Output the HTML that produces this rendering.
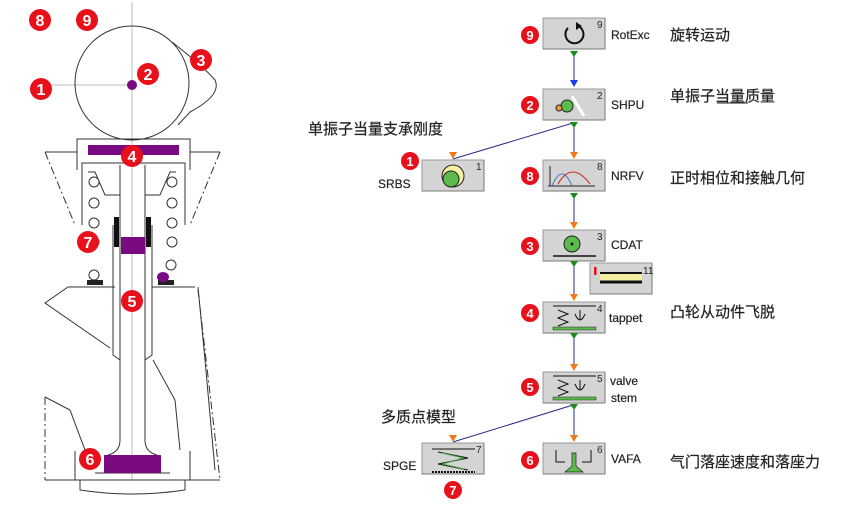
<!DOCTYPE html>
<html><head><meta charset="utf-8"><style>
html,body{margin:0;padding:0;background:#fff;width:861px;height:507px;overflow:hidden}
svg{display:block}
.lb{font-family:"Liberation Sans",sans-serif;font-size:12px;fill:#222}
.cn{font-family:"Liberation Sans","Noto Sans CJK SC",sans-serif;font-size:15px;fill:#222}
.bn{font-family:"Liberation Sans",sans-serif;font-size:16px;font-weight:bold;fill:#fff}
.sm{font-family:"Liberation Sans",sans-serif;font-size:10px;fill:#222}
</style></head><body>
<svg width="861" height="507" viewBox="0 0 861 507">
<defs>
<g id="bx"><rect x="0" y="0" width="62" height="31" fill="#d4d4d4" stroke="#999"/><line x1="0" y1="31" x2="62" y2="31" stroke="#777"/><line x1="62" y1="0" x2="62" y2="31" stroke="#777"/></g>
</defs>
<!-- LEFT MECHANISM -->
<g fill="none" stroke="#333" stroke-width="1">
<line x1="132" y1="2" x2="132" y2="480" stroke="#bbb"/>
<line x1="50" y1="85" x2="130" y2="85" stroke="#bbb"/>
<circle cx="132" cy="83" r="57"/>
<path d="M172,42 Q205,68 215,80 Q222,95 190,112 L178,125"/>
<path d="M77,170 L77,139 L190,139 L190,170 M45,152 L77,152 M190,152 L220,152"/>
<path d="M45,152 L75,225 M220,152 L190,225" stroke-dasharray="8,3,2,3"/>
<path d="M82,225 L82,163 L185,163 L185,225"/>
<path d="M88,172 L95,172 L105,195 L120,195 M176,172 L170,172 L160,195 L145,195"/>
<path d="M120,165 L120,440 Q120,452 108,455 M145,165 L145,440 Q145,452 157,455"/>
<path d="M113,225 L113,355 L120,360 M152,225 L152,355 L145,360"/>
<path d="M68,287 L115,287 M152,287 L195,287"/>
<path d="M68,287 L45,303 L110,348 M198,287 L205,360 L215,470"/>
<path d="M198,290 L220,480" stroke-dasharray="8,3,2,3"/>
<path d="M45,480 L220,480" />
<path d="M45,397 L45,480" stroke-dasharray="8,3,2,3"/>
<path d="M45,397 L70,410 L85,450 L100,460 M153,360 L175,400 L180,450"/>
<path d="M75,451 L75,480 M190,451 L190,480 M80,480 L80,490 Q132,498 185,490 L185,480"/>
<path d="M95,473 L170,473"/>
</g>
<g fill="#fff" stroke="#333">
<circle cx="94" cy="182" r="5"/><circle cx="94" cy="203" r="5"/><circle cx="94" cy="223" r="5"/><circle cx="94" cy="242" r="5"/>
<circle cx="172" cy="182" r="5"/><circle cx="172" cy="203" r="5"/><circle cx="172" cy="223" r="5"/><circle cx="172" cy="242" r="5"/>
<circle cx="94" cy="275" r="5"/><circle cx="171" cy="265" r="5"/>
</g>
<rect x="87" y="280" width="16" height="5" fill="#222"/><rect x="158" y="280" width="16" height="5" fill="#222"/>
<rect x="114" y="217" width="5" height="30" fill="#111"/><rect x="146" y="217" width="5" height="30" fill="#111"/>
<g fill="#7a0a82">
<rect x="88" y="145" width="91" height="10"/>
<rect x="121" y="237" width="24" height="17"/>
<circle cx="132" cy="85" r="5"/>
<ellipse cx="163" cy="277" rx="6" ry="5"/>
<rect x="104" y="455" width="57" height="18"/>
</g>
<g>
<g fill="#e8101a">
<circle cx="40" cy="20" r="11"/><circle cx="87" cy="20" r="11"/><circle cx="201" cy="60" r="11"/>
<circle cx="41" cy="89" r="11"/><circle cx="148" cy="74" r="11"/><circle cx="132" cy="156" r="11"/>
<circle cx="88" cy="242" r="11"/><circle cx="132" cy="301" r="11"/><circle cx="90" cy="459" r="11"/>
</g>
<text class="bn" x="40" y="26" text-anchor="middle">8</text>
<text class="bn" x="87" y="26" text-anchor="middle">9</text>
<text class="bn" x="201" y="66" text-anchor="middle">3</text>
<text class="bn" x="41" y="95" text-anchor="middle">1</text>
<text class="bn" x="148" y="80" text-anchor="middle">2</text>
<text class="bn" x="132" y="162" text-anchor="middle">4</text>
<text class="bn" x="88" y="248" text-anchor="middle">7</text>
<text class="bn" x="132" y="307" text-anchor="middle">5</text>
<text class="bn" x="90" y="465" text-anchor="middle">6</text>
</g>

<!-- FLOW -->
<g stroke="#2a2a8a" stroke-width="1">
<line x1="574" y1="52" x2="574" y2="85"/>
<line x1="574" y1="123" x2="574" y2="156"/>
<line x1="574" y1="194" x2="574" y2="226"/>
<line x1="574" y1="262" x2="574" y2="298"/>
<line x1="574" y1="334" x2="574" y2="368"/>
<line x1="574" y1="405" x2="574" y2="439"/>
<line x1="573" y1="123" x2="453" y2="159"/>
<line x1="573" y1="405" x2="453" y2="442"/>
</g>
<g>
<use href="#bx" x="543" y="18"/>
<use href="#bx" x="543" y="89"/>
<use href="#bx" x="543" y="160"/>
<use href="#bx" x="543" y="230"/>
<use href="#bx" x="590" y="263"/>
<use href="#bx" x="543" y="302"/>
<use href="#bx" x="543" y="372"/>
<use href="#bx" x="543" y="443"/>
<use href="#bx" x="422" y="160"/>
<use href="#bx" x="422" y="443"/>
</g>
<g fill="#1a8a1a">
<path d="M570,51 L578,51 L574,57Z"/><path d="M570,122 L578,122 L574,128Z"/><path d="M570,193 L578,193 L574,199Z"/>
<path d="M570,261 L578,261 L574,267Z"/><path d="M570,333 L578,333 L574,339Z"/><path d="M570,404 L578,404 L574,410Z"/>
</g>
<path d="M570,80 L578,80 L574,87Z" fill="#1a3aee"/>
<g fill="#f07a1a">
<path d="M570,152 L578,152 L574,159Z"/><path d="M570,222 L578,222 L574,229Z"/><path d="M570,294 L578,294 L574,301Z"/>
<path d="M570,364 L578,364 L574,371Z"/><path d="M570,435 L578,435 L574,442Z"/>
<path d="M449,152 L457,152 L453,159Z"/><path d="M449,435 L457,435 L453,442Z"/>
</g>
<g fill="none" stroke="#111" stroke-width="2">
<path d="M578,26 A9,9 0 1 1 568,28"/>
</g>
<path d="M576,22 L582,26 L576,30Z" fill="#111"/>
<circle cx="567" cy="106" r="6" fill="#5dbb4d" stroke="#222"/><circle cx="559" cy="108" r="3" fill="#f0a030" stroke="#222"/>
<line x1="572" y1="96" x2="584" y2="116" stroke="#fff" stroke-width="3"/>
<circle cx="453" cy="176" r="11" fill="#f4f0a0" stroke="#222"/><circle cx="451" cy="179" r="8" fill="#5dbb4d" stroke="#222"/>
<path d="M548,186 L595,186 M550,186 L550,166" stroke="#222" fill="none"/>
<path d="M552,186 Q562,162 572,186" stroke="#3a7ad0" fill="none"/><path d="M558,184 Q572,160 590,184" stroke="#d02020" fill="none"/>
<circle cx="572" cy="244" r="8" fill="#5dbb4d" stroke="#222"/><circle cx="572" cy="244" r="1.5" fill="#111"/>
<line x1="553" y1="256" x2="596" y2="256" stroke="#111" stroke-width="1.5"/>
<rect x="600" y="273" width="42" height="8" fill="#f4f0a0"/><line x1="600" y1="273" x2="642" y2="273" stroke="#111" stroke-width="2"/><line x1="600" y1="282" x2="642" y2="282" stroke="#111" stroke-width="3"/>
<rect x="594" y="267" width="2.5" height="8" fill="#e8101a"/>
<g stroke="#111" fill="none">
<path d="M553,306 L596,306 M558,310 L568,314 L558,318 L568,322 L558,326 M580,310 L580,320 M575,314 Q580,326 585,314"/>
<path d="M553,376 L596,376 M558,380 L568,384 L558,388 L568,392 L558,396 M580,380 L580,390 M575,384 Q580,396 585,384"/>
<path d="M556,450 L556,462 L565,462 M591,450 L591,462 L582,462"/>
<path d="M432,449 L475,449 M438,452 L468,458 L438,464 L468,470"/>
</g>
<path d="M442,453 L464,458 L442,464 L464,469" stroke="#3a9a3a" fill="none"/>
<rect x="553" y="327" width="43" height="3" fill="#5dbb4d" stroke="#222" stroke-width=".5"/>
<rect x="553" y="397" width="43" height="3" fill="#5dbb4d" stroke="#222" stroke-width=".5"/>
<path d="M572,453 L572,466 L565,472 L583,472 L576,466 L576,453Z" fill="#5dbb4d" stroke="#222" stroke-width=".7"/>
<line x1="432" y1="472" x2="475" y2="472" stroke="#111" stroke-dasharray="2,1" stroke-width="2"/>
<g class="sm">
<text x="597" y="28">9</text><text x="597" y="99">2</text><text x="597" y="170">8</text><text x="597" y="240">3</text>
<text x="643" y="274">11</text><text x="597" y="312">4</text><text x="597" y="382">5</text><text x="597" y="453">6</text>
<text x="476" y="170">1</text><text x="476" y="453">7</text>
</g>
<g class="lb" style="stroke:#222;stroke-width:0.2">
<text x="611" y="39">RotExc</text><text x="611" y="109">SHPU</text><text x="611" y="180">NRFV</text>
<text x="611" y="249">CDAT</text><text x="609" y="322">tappet</text><text x="610" y="385">valve</text><text x="611" y="402">stem</text>
<text x="611" y="463">VAFA</text><text x="378" y="188">SRBS</text><text x="383" y="470">SPGE</text>
</g>
<g class="cn" style="stroke:#222;stroke-width:0.2">
<text x="670" y="40">旋转运动</text><text x="670" y="101">单振子当量质量</text>
<text x="670" y="183">正时相位和接触几何</text><text x="670" y="317">凸轮从动件飞脱</text>
<text x="670" y="467">气门落座速度和落座力</text>
<text x="308" y="134">单振子当量支承刚度</text><text x="381" y="422">多质点模型</text>
</g>
<line x1="717" y1="103" x2="748" y2="103" stroke="#222"/>
<g fill="#e8101a">
<circle cx="530" cy="35" r="9"/><circle cx="530" cy="105" r="9"/><circle cx="530" cy="176" r="9"/>
<circle cx="530" cy="246" r="9"/><circle cx="530" cy="313" r="9"/><circle cx="530" cy="387" r="9"/>
<circle cx="530" cy="460" r="9"/><circle cx="410" cy="161" r="9"/><circle cx="453" cy="490" r="9"/>
</g>
<g class="bn" style="font-size:13px" text-anchor="middle">
<text x="530" y="40">9</text><text x="530" y="110">2</text><text x="530" y="181">8</text><text x="530" y="251">3</text>
<text x="530" y="318">4</text><text x="530" y="392">5</text><text x="530" y="465">6</text><text x="410" y="166">1</text><text x="453" y="495">7</text>
</g>
</svg>
</body></html>
